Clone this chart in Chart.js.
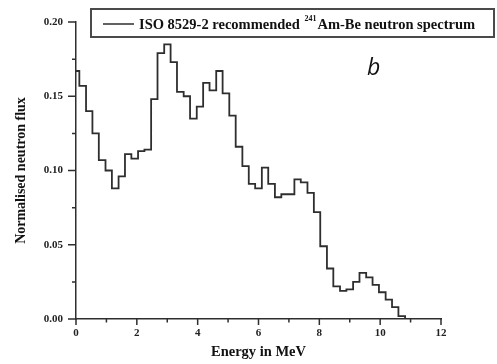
<!DOCTYPE html>
<html>
<head>
<meta charset="utf-8">
<script src="https://cdn.jsdelivr.net/npm/chart.js@4"></script>
<style>
  html, body { margin: 0; padding: 0; background: #ffffff; }
  #wrap { width: 497px; height: 364px; }
</style>
</head>
<body>
<div id="wrap"><canvas id="myChart" width="497" height="364"></canvas></div>
<script>
// bin edges in MeV (left edge of each bin, last entry closes the final bin)
var binEdges = [0, 0.11, 0.33, 0.54, 0.75, 0.97, 1.18, 1.40, 1.61, 1.82, 2.04, 2.25, 2.47, 2.68,
    2.90, 3.11, 3.32, 3.54, 3.75, 3.97, 4.18, 4.39, 4.61, 4.82, 5.04, 5.25, 5.47, 5.68, 5.89,
    6.11, 6.32, 6.54, 6.75, 6.96, 7.18, 7.39, 7.61, 7.82, 8.03, 8.25, 8.46, 8.68, 8.89, 9.11,
    9.32, 9.54, 9.75, 9.96, 10.18, 10.39, 10.60, 10.82];

// normalised flux in each bin
var fluxValues = [0.167, 0.157, 0.140, 0.125, 0.107, 0.100, 0.088, 0.096, 0.111, 0.108, 0.113,
    0.114, 0.148, 0.179, 0.185, 0.173, 0.153, 0.150, 0.135, 0.143, 0.159, 0.154, 0.167, 0.152,
    0.137, 0.116, 0.103, 0.091, 0.088, 0.102, 0.091, 0.082, 0.084, 0.084, 0.094, 0.092, 0.085,
    0.072, 0.049, 0.034, 0.022, 0.019, 0.020, 0.025, 0.031, 0.028, 0.023, 0.018, 0.013, 0.008,
    0.002];

var xTicks = [0, 2, 4, 6, 8, 10, 12];
var yTicks = [0.00, 0.05, 0.10, 0.15, 0.20];

var seriesLabel = ["ISO 8529-2 recommended ", "241", "Am-Be neutron spectrum"];
var panelLetter = "b";

var serif = "'Liberation Serif', 'Times New Roman', serif";
var ink = "#2e2e2e";

function buildPoints() {
    var pts = [];
    for (var i = 0; i < fluxValues.length; i++) {
        pts.push({x: binEdges[i], y: fluxValues[i]});
    }
    // close the last bin and drop to zero
    pts.push({x: binEdges[binEdges.length - 1], y: 0});
    return pts;
}

// outward tick marks, long on labelled values and short halfway between
var tickMarks = {
    id: "tickMarks",
    afterDraw: function(chart) {
        var ctx = chart.ctx;
        var xs = chart.scales.x, ys = chart.scales.y;
        ctx.save();
        ctx.strokeStyle = ink;
        ctx.lineWidth = 1.5;
        ctx.beginPath();
        for (var i = 0; i < xTicks.length; i++) {
            var px = xs.getPixelForValue(xTicks[i]);
            ctx.moveTo(px, xs.top);
            ctx.lineTo(px, xs.top + 6);
            if (i < xTicks.length - 1) {
                var mx = xs.getPixelForValue((xTicks[i] + xTicks[i + 1]) / 2);
                ctx.moveTo(mx, xs.top);
                ctx.lineTo(mx, xs.top + 3.5);
            }
        }
        for (var j = 0; j < yTicks.length; j++) {
            var py = ys.getPixelForValue(yTicks[j]);
            ctx.moveTo(ys.right, py);
            ctx.lineTo(ys.right - 8, py);
            if (j < yTicks.length - 1) {
                var my = ys.getPixelForValue((yTicks[j] + yTicks[j + 1]) / 2);
                ctx.moveTo(ys.right, my);
                ctx.lineTo(ys.right - 4, my);
            }
        }
        ctx.stroke();
        ctx.restore();
    }
};

// boxed legend with a superscript mass number, plus the panel letter
var boxLegend = {
    id: "boxLegend",
    afterDraw: function(chart) {
        var ctx = chart.ctx;
        ctx.save();
        ctx.fillStyle = "#ffffff";
        ctx.fillRect(91, 9, 403, 28);
        ctx.strokeStyle = "#4a4a4a";
        ctx.lineWidth = 2;
        ctx.strokeRect(91, 9, 403, 28);

        ctx.strokeStyle = ink;
        ctx.lineWidth = 1.5;
        ctx.beginPath();
        ctx.moveTo(103, 24);
        ctx.lineTo(134, 24);
        ctx.stroke();

        ctx.fillStyle = "#111111";
        ctx.textBaseline = "alphabetic";
        var x = 139;
        ctx.font = "bold 14.5px " + serif;
        ctx.fillText(seriesLabel[0], x, 29);
        x += ctx.measureText(seriesLabel[0]).width + 1;
        ctx.font = "bold 8px " + serif;
        ctx.fillText(seriesLabel[1], x, 21);
        x += ctx.measureText(seriesLabel[1]).width + 1;
        ctx.font = "bold 14.5px " + serif;
        ctx.fillText(seriesLabel[2], x, 29);

        ctx.font = "italic 23px 'Open Sans', 'DejaVu Sans', sans-serif";
        ctx.fillText(panelLetter, 367, 75);
        ctx.restore();
    }
};

function generateChart() {
    var ctx = document.getElementById("myChart").getContext("2d");
    var myChart = new Chart(ctx, {
        type: "line",
        data: {
            datasets: [{
                label: seriesLabel.join(""),
                data: buildPoints(),
                stepped: true,
                borderColor: ink,
                borderWidth: 1.8,
                pointRadius: 0,
                fill: false
            }]
        },
        options: {
            responsive: false,
            animation: false,
            layout: {padding: {left: 0, right: 56, top: 22, bottom: 0}},
            plugins: {legend: {display: false}, tooltip: {enabled: false}},
            scales: {
                x: {
                    type: "linear",
                    min: 0,
                    max: 12,
                    afterFit: function(s) { s.height = 45; },
                    afterBuildTicks: function(s) { s.ticks = xTicks.map(function(v) { return {value: v}; }); },
                    grid: {display: true, drawOnChartArea: false, drawTicks: false},
                    border: {display: true, color: ink, width: 1.5},
                    ticks: {
                        padding: 8,
                        color: "#222222",
                        font: {family: serif, size: 11, weight: "bold"},
                        callback: function(v) { return String(v); }
                    },
                    title: {
                        display: true,
                        text: "Energy in MeV",
                        color: "#111111",
                        font: {family: serif, size: 14.5, weight: "bold"},
                        padding: {top: 0, bottom: 3}
                    }
                },
                y: {
                    min: 0,
                    max: 0.2,
                    afterFit: function(s) { s.width = 76; },
                    afterBuildTicks: function(s) { s.ticks = yTicks.map(function(v) { return {value: v}; }); },
                    grid: {display: true, drawOnChartArea: false, drawTicks: false},
                    border: {display: true, color: ink, width: 1.5},
                    ticks: {
                        padding: 13,
                        color: "#222222",
                        font: {family: serif, size: 11, weight: "bold"},
                        callback: function(v) { return v.toFixed(2); }
                    },
                    title: {
                        display: true,
                        text: "Normalised neutron flux",
                        color: "#111111",
                        font: {family: serif, size: 14, weight: "bold"},
                        padding: {top: 13, bottom: 0}
                    }
                }
            }
        },
        plugins: [tickMarks, boxLegend]
    });
    return myChart;
}

document.addEventListener("DOMContentLoaded", function() {
    generateChart();
});
</script>
</body>
</html>
